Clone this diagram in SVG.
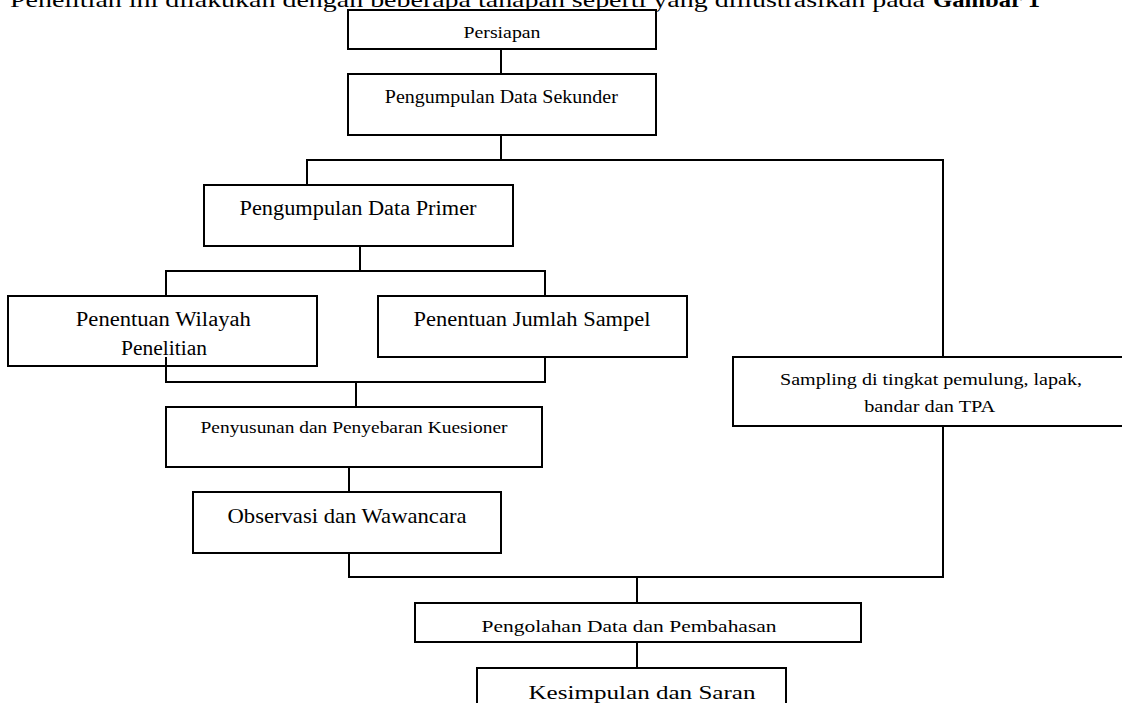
<svg xmlns="http://www.w3.org/2000/svg" width="1122" height="703" viewBox="0 0 1122 703" font-family="'Liberation Serif', 'Times New Roman', Times, serif">
<style>
  .box { fill: #fff; stroke: #000; stroke-width: 2; }
  .con { fill: none; stroke: #000; stroke-width: 2; }
  text { font-family: 'Liberation Serif', 'Times New Roman', Times, serif; fill: #000; }
  .c { text-anchor: middle; }
</style>
<rect width="1122" height="703" fill="#fff"/>
<g id="title">
  <text x="10" y="7" font-size="22" textLength="915" lengthAdjust="spacingAndGlyphs">Penelitian ini dilakukan dengan beberapa tahapan seperti yang diilustrasikan pada</text>
  <text x="933" y="7" font-size="22" font-weight="bold" textLength="107" lengthAdjust="spacingAndGlyphs">Gambar 1</text>
</g>
<g id="connectors">
  <path class="con" d="M501,49 V74"/>
  <path class="con" d="M501,135 V160"/>
  <path class="con" d="M307,185 V160 H943 V357"/>
  <path class="con" d="M360,246 V271"/>
  <path class="con" d="M166,296 V271 H545 V296"/>
  <path class="con" d="M166,357 V382 H545 V357"/>
  <path class="con" d="M356,382 V407"/>
  <path class="con" d="M349,467 V492"/>
  <path class="con" d="M349,553 V577 H943 V426"/>
  <path class="con" d="M637,577 V603"/>
  <path class="con" d="M637,642 V668"/>
</g>
<g id="persiapan">
  <rect class="box" x="348" y="10" width="308" height="39"/>
  <text class="c" x="502" y="37.7" font-size="17.6" textLength="77" lengthAdjust="spacingAndGlyphs">Persiapan</text>
</g>
<g id="sekunder">
  <rect class="box" x="348" y="74" width="308" height="61"/>
  <text class="c" x="501.3" y="102.7" font-size="18" textLength="233" lengthAdjust="spacingAndGlyphs">Pengumpulan Data Sekunder</text>
</g>
<g id="primer">
  <rect class="box" x="204" y="185" width="309" height="61"/>
  <text class="c" x="358" y="215" font-size="20" textLength="237" lengthAdjust="spacingAndGlyphs">Pengumpulan Data Primer</text>
</g>
<g id="wilayah">
  <rect class="box" x="8" y="296" width="309" height="70"/>
  <text class="c" x="163.3" y="326" font-size="20" textLength="175" lengthAdjust="spacingAndGlyphs">Penentuan Wilayah</text>
  <text class="c" x="164" y="355" font-size="20" textLength="86" lengthAdjust="spacingAndGlyphs">Penelitian</text>
  <path class="con" d="M166,357 V366"/>
</g>
<g id="jumlah">
  <rect class="box" x="378" y="296" width="309" height="61"/>
  <text class="c" x="532" y="326" font-size="20" textLength="237" lengthAdjust="spacingAndGlyphs">Penentuan Jumlah Sampel</text>
</g>
<g id="sampling">
  <rect class="box" x="733" y="357" width="420" height="69"/>
  <text class="c" x="931" y="385" font-size="17.6" textLength="302" lengthAdjust="spacingAndGlyphs">Sampling di tingkat pemulung, lapak,</text>
  <text class="c" x="929.7" y="411.7" font-size="17.6" textLength="131" lengthAdjust="spacingAndGlyphs">bandar dan TPA</text>
</g>
<g id="kuesioner">
  <rect class="box" x="166" y="407" width="376" height="60"/>
  <text class="c" x="354" y="433.3" font-size="17" textLength="307" lengthAdjust="spacingAndGlyphs">Penyusunan dan Penyebaran Kuesioner</text>
</g>
<g id="observasi">
  <rect class="box" x="193" y="492" width="308" height="61"/>
  <text class="c" x="347" y="523.3" font-size="22" textLength="239" lengthAdjust="spacingAndGlyphs">Observasi dan Wawancara</text>
</g>
<g id="pengolahan">
  <rect class="box" x="415" y="603" width="446" height="39"/>
  <text class="c" x="629" y="631.7" font-size="17.6" textLength="295" lengthAdjust="spacingAndGlyphs">Pengolahan Data dan Pembahasan</text>
</g>
<g id="kesimpulan">
  <rect class="box" x="477" y="668" width="309" height="60"/>
  <text class="c" x="642" y="699" font-size="19" textLength="227" lengthAdjust="spacingAndGlyphs">Kesimpulan dan Saran</text>
</g>
</svg>
